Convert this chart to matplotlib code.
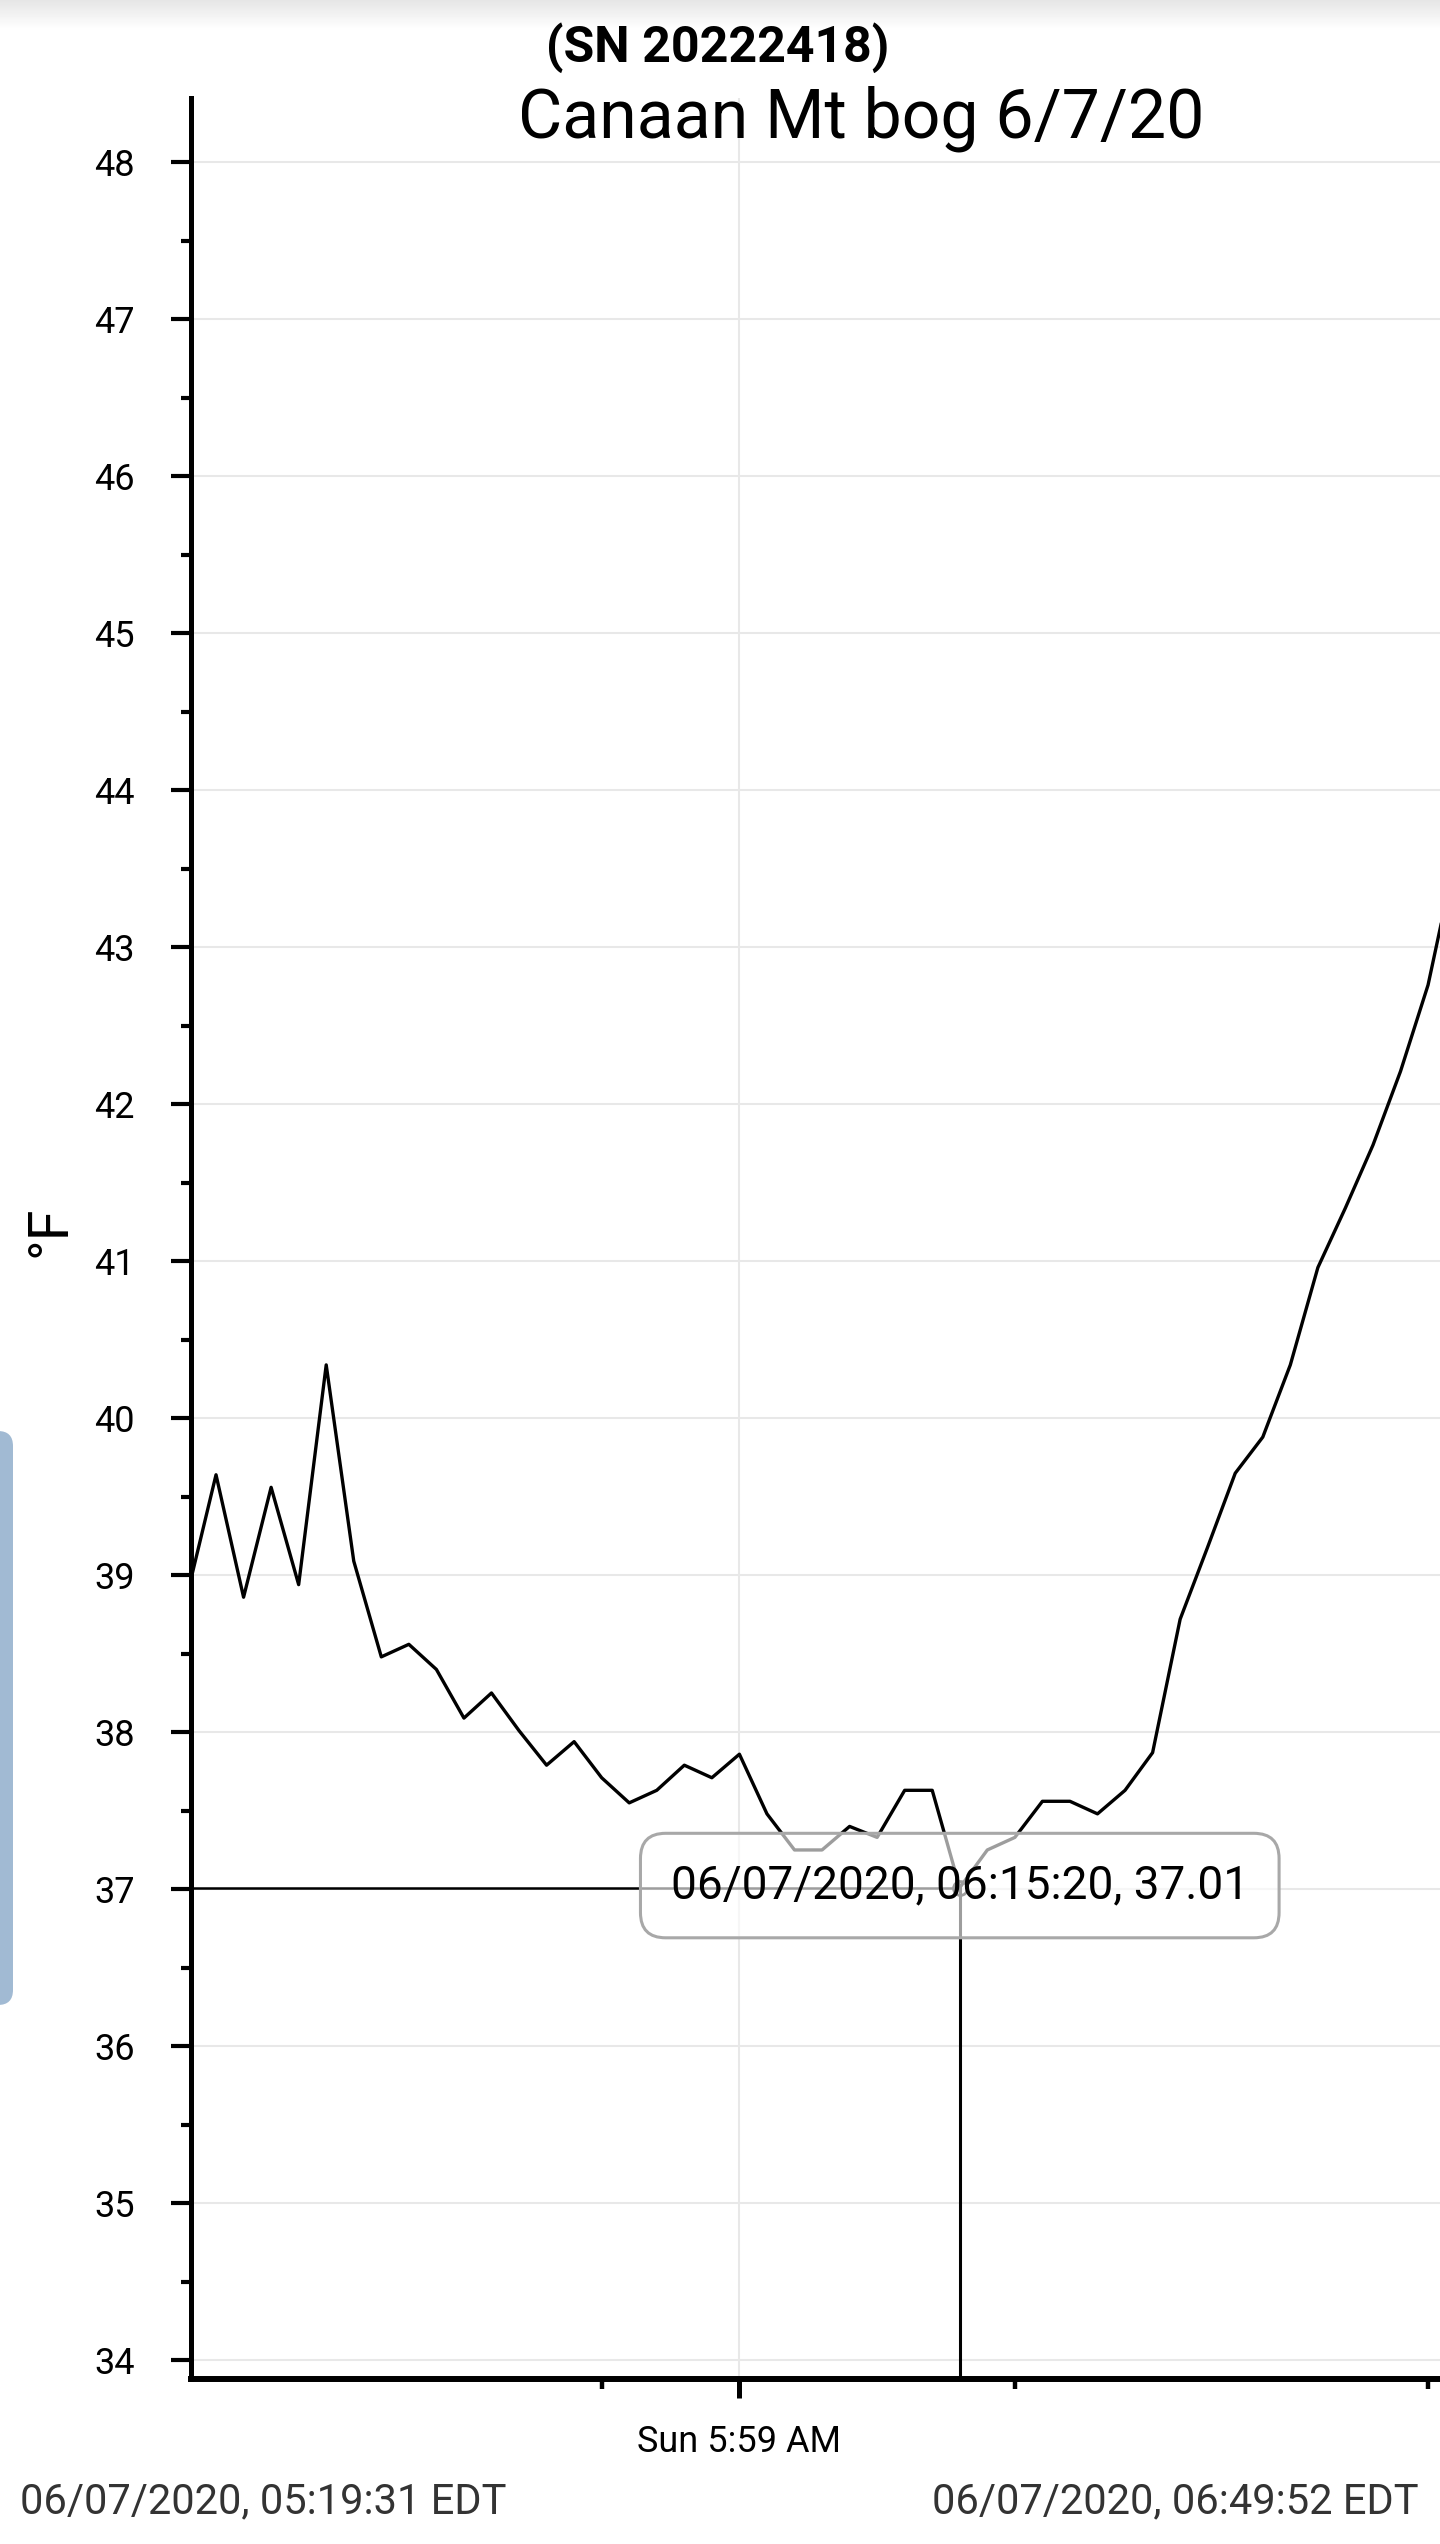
"""
Canaan Mt bog logger trace (SN 20222418), 6/7/20, rebuilt as a static chart.
"""

import matplotlib
matplotlib.use('Agg')
import matplotlib.pyplot as plt
import matplotlib.transforms as mtransforms
from matplotlib.patches import FancyBboxPatch
import numpy as np
import pandas as pd


plt.rcParams['font.family'] = ['Roboto', 'DejaVu Sans']

DAY = '2020-06-07 '

# logger readings, every 2 minutes
times = ['05:19:20', '05:21:20', '05:23:20', '05:25:20', '05:27:20', '05:29:20',
         '05:31:20', '05:33:20', '05:35:20', '05:37:20', '05:39:20', '05:41:20',
         '05:43:20', '05:45:20', '05:47:20', '05:49:20', '05:51:20', '05:53:20',
         '05:55:20', '05:57:20', '05:59:20', '06:01:20', '06:03:20', '06:05:20',
         '06:07:20', '06:09:20', '06:11:20', '06:13:20', '06:15:20', '06:17:20',
         '06:19:20', '06:21:20', '06:23:20', '06:25:20', '06:27:20', '06:29:20',
         '06:31:20', '06:33:20', '06:35:20', '06:37:20', '06:39:20', '06:41:20',
         '06:43:20', '06:45:20', '06:47:20', '06:49:20', '06:51:20']
temps_f = [38.91, 39.64, 38.86, 39.56, 38.94, 40.34,
           39.09, 38.48, 38.56, 38.40, 38.09, 38.25,
           38.01, 37.79, 37.94, 37.71, 37.55, 37.63,
           37.79, 37.71, 37.86, 37.48, 37.25, 37.25,
           37.40, 37.33, 37.63, 37.63, 37.01, 37.25,
           37.33, 37.56, 37.56, 37.48, 37.63, 37.87,
           38.72, 39.18, 39.65, 39.88, 40.34, 40.96,
           41.34, 41.74, 42.21, 42.76, 43.58]

y_ticks = list(range(34, 49))
y_minor_ticks = [v + 0.5 for v in range(34, 48)]
x_major_ticks = ['05:59:20']
x_major_labels = ['Sun 5:59 AM']
x_minor_ticks = ['05:49:20', '06:19:20', '06:49:20']

cursor_time = '06:15:20'
cursor_temp = 37.01
cursor_label = '06/07/2020, 06:15:20, 37.01'

range_labels = ['06/07/2020, 05:19:31 EDT', '06/07/2020, 06:49:52 EDT']
view_start = '05:19:31'
view_end = '06:50:12'


def ts(t):
    return pd.Timestamp(DAY + t)


x = [ts(t) for t in times]

fig = plt.figure(figsize=(14.4, 25.44), dpi=100)
ax = fig.add_axes([191 / 1440, 165 / 2544, 1249 / 1440, 2281 / 2544])

ax.plot(x, temps_f, color='black', lw=2.4, zorder=3)

ax.set_xlim(ts(view_start), ts(view_end))
ax.set_ylim(33.88, 48.41)

for side in ['top', 'right']:
    ax.spines[side].set_visible(False)
ax.spines['left'].set_linewidth(3.6)
ax.spines['bottom'].set_linewidth(4.3)

ax.set_yticks(y_ticks)
ax.set_yticks(y_minor_ticks, minor=True)
ax.set_xticks([ts(t) for t in x_major_ticks])
ax.set_xticklabels(x_major_labels)
ax.set_xticks([ts(t) for t in x_minor_ticks], minor=True)

ax.tick_params(axis='y', which='major', length=14.4, width=3, pad=26, labelsize=26)
ax.tick_params(axis='y', which='minor', length=7.2, width=3)
ax.tick_params(axis='x', which='major', length=13.7, width=3.6, pad=19, labelsize=26)
ax.tick_params(axis='x', which='minor', length=7.2, width=3.2)

ax.grid(True, which='major', color='#e8e8e8', lw=1.5)
ax.set_axisbelow(True)

ax.set_ylabel('°F', fontsize=40)
ax.yaxis.set_label_coords(-0.092, 0.503)

# crosshair at the picked reading
ct = ts(cursor_time)
ax.plot([ts(view_start), ct], [cursor_temp, cursor_temp], color='black', lw=1.8, zorder=3)
ax.plot([ct, ct], [33.88, cursor_temp], color='black', lw=2.2, zorder=3)
ax.plot([ct], [cursor_temp], 'o', mfc='none', mec='black', ms=10, mew=2, zorder=4)
ax.annotate(cursor_label, xy=(ct, cursor_temp), xytext=(0, 1.5),
            textcoords='offset points', ha='center', va='center', fontsize=33,
            bbox=dict(boxstyle='round,pad=0.66,rounding_size=0.55',
                      fc=(1, 1, 1, 0.62), ec='#a8a8a8', lw=2.2),
            zorder=5, annotation_clip=False)

fig.text(718 / 1440, (2544 - 62) / 2544, '(SN 20222418)', ha='center',
         va='baseline', fontsize=36, fontweight='bold')
fig.text(861 / 1440, (2544 - 137) / 2544, 'Canaan Mt bog 6/7/20', ha='center',
         va='baseline', fontsize=49)

fig.text(20 / 1440, (2544 - 2513) / 2544, range_labels[0], ha='left',
         va='baseline', fontsize=30, color='#333333')
fig.text(1419 / 1440, (2544 - 2513) / 2544, range_labels[1], ha='right',
         va='baseline', fontsize=30, color='#333333')

# side handle on the left edge of the screen
handle = FancyBboxPatch((-30, 539), 43, 574, boxstyle='round,pad=0,rounding_size=15',
                        transform=mtransforms.IdentityTransform(),
                        fc='#a1bad3', ec='none')
fig.patches.append(handle)

# faint shadow under the top bar
gax = fig.add_axes([0, 1 - 30 / 2544, 1, 30 / 2544])
shade = np.linspace(0.9, 1.0, 30).reshape(-1, 1)
gax.imshow(shade, aspect='auto', cmap='gray', vmin=0, vmax=1)
gax.axis('off')

fig.savefig('out.png', dpi=100)
